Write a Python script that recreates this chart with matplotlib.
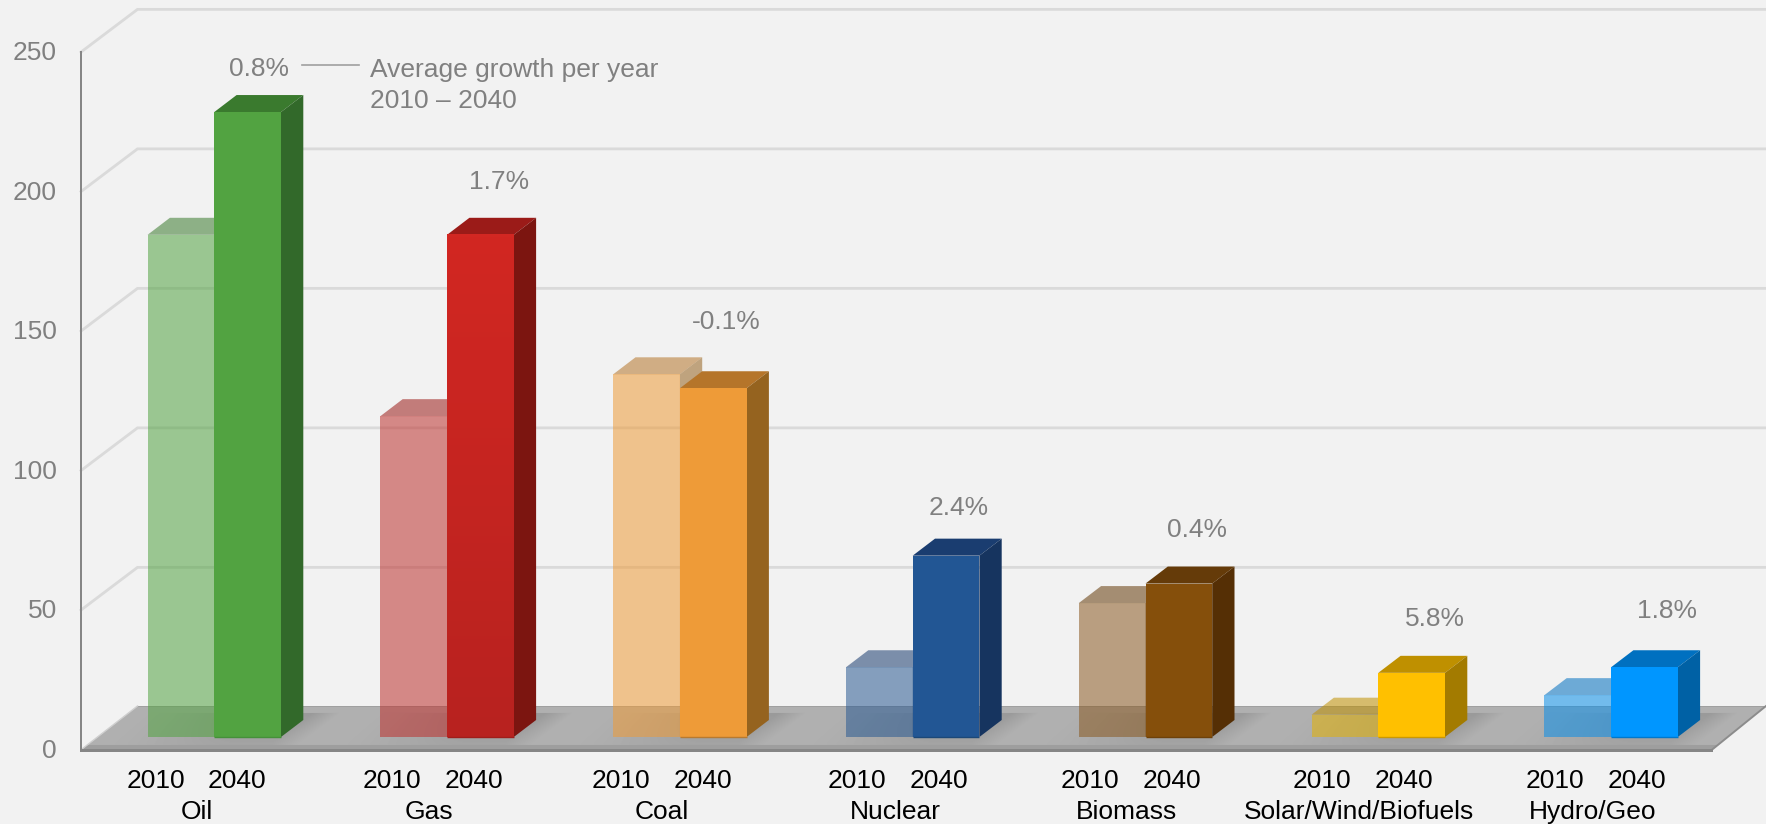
import numpy as np
import matplotlib
matplotlib.use("Agg")
import matplotlib.pyplot as plt
from matplotlib.patches import Polygon
from matplotlib.colors import LinearSegmentedColormap

# ---------- data ----------
categories = ["Oil", "Gas", "Coal", "Nuclear", "Biomass", "Solar/Wind/Biofuels", "Hydro/Geo"]
values_2010 = [180, 115, 130, 25, 48, 8, 15]
values_2040 = [224, 180, 125, 65, 55, 23, 25]
growth_labels = ["0.8%", "1.7%", "-0.1%", "2.4%", "0.4%", "5.8%", "1.8%"]
years = ["2010", "2040"]
y_ticks = [0, 50, 100, 150, 200, 250]
note_lines = ["Average growth per year", "2010 \u2013 2040"]

# ---------- styles ----------
front_colors = ["#52a341", "#c9241f", "#ee9b38", "#225694", "#854f0b", "#ffc000", "#0096ff"]
front_2010 = ["#52a341", "#bd312e", "#ee9b38", "#2a5a92", "#8a5a22", "#e3b205", "#0a8ee8"]
top_colors = ["#3a7a2e", "#9b1b18", "#b5752a", "#1a3d70", "#653b09", "#bf9000", "#0070c0"]
side_colors = ["#32692a", "#7c1510", "#95631f", "#16345f", "#552f05", "#a37b00", "#0061a5"]
base_lines = ["#45903a", "#a01d1a", "#b87a30", "#1c4878", "#6e4109", "#cc9900", "#0078cc"]
ALPHA_2010 = 0.55
BG = "#f2f2f2"
GRID = "#dadada"
AXIS = "#868686"
GREY_TXT = "#808080"
W, H = 1766, 824

plt.rcParams["font.family"] = ["Liberation Sans", "DejaVu Sans"]
fig = plt.figure(figsize=(W / 100, H / 100), dpi=100, facecolor=BG)
ax = fig.add_axes([0, 0, 1, 1])
ax.set_facecolor(BG)
ax.axis("off")

# one category step is 232.8 px, one value unit is 2.79 px
X0, XS, Y0, YS = 214.3, 232.8, 737.0, 2.79
def X(px): return (px - X0) / XS
def Y(py): return (Y0 - py) / YS
xlim = (X(0), X(W))
ylim = (Y(H), Y(0))

BW = 66.7 / XS          # bar width
BDX, BDY = 22.3 / XS, 17 / YS   # bar depth
FRONT_X, BACK_X = X(81), X(137.5)
FRONT_OFF, BACK_OFF = -4.5, 10.8  # wall plane offsets in value units
lw2 = 2 * 72 / 100

# gridlines and walls
for v in y_ticks[1:]:
    ax.plot([FRONT_X, BACK_X, X(W)], [v + FRONT_OFF, v + BACK_OFF, v + BACK_OFF],
            color=GRID, lw=lw2 * 1.4, zorder=1, solid_joinstyle="miter")
ax.plot([FRONT_X, FRONT_X], [FRONT_OFF, 250 + FRONT_OFF], color=AXIS, lw=lw2, zorder=6)
ax.plot([FRONT_X, X(1711)], [FRONT_OFF, FRONT_OFF], color=AXIS, lw=lw2 * 1.5, zorder=6)

# floor with repeating diagonal shading
px = np.arange(80, W + 1)
py = np.arange(705, 752)
PX, PY = np.meshgrid(px + 0.5, py + 0.5)
t = ((PX + (PY - 713) * 1.33 - 807) % 233) / 233
s = np.clip((t - 0.12) / 0.62, 0, 1)
s = s * s * (3 - 2 * s)
edge = np.clip((1 - t) / 0.12, 0, 1)
fade = 1 - 0.45 * np.clip((PY - 713) / 32, 0, 1)
shade = 176 - (176 - 154) * s * edge * fade
shade[PY < 713] = 176
shade[PY < 707.5] = 160
shade[PY > 744.5] = 158
cmap = LinearSegmentedColormap.from_list("g", ["#000000", "#ffffff"])
im = ax.imshow(shade, extent=(X(px[0]), X(px[-1] + 1), Y(py[-1] + 1), Y(py[0])),
               cmap=cmap, vmin=0, vmax=255, aspect="auto", zorder=2,
               interpolation="bilinear")
floor = Polygon([(X(81), Y(750)), (X(137.5), Y(706)), (X(W), Y(706)), (X(1711), Y(750.5))],
                closed=True, transform=ax.transData, fc="none", ec="none")
ax.add_patch(floor)
im.set_clip_path(floor)
ax.plot([X(82), X(137.5)], [Y(749), Y(706)], color="#cfcfcf", lw=1, zorder=3)
ax.plot([X(1711), X(W)], [Y(750.5), Y(706)], color="#8c8c8c", lw=1.4, zorder=3)

def draw_bar(x, v, i, alpha, z, front):
    ax.bar(x, v, BW, align="edge", color=front, alpha=alpha, lw=0, zorder=z + 1)
    ax.fill([x, x + BDX, x + BW + BDX, x + BW],
            [v, v + BDY, v + BDY, v],
            color=top_colors[i], alpha=alpha, lw=0, zorder=z)
    ax.fill([x + BW, x + BW + BDX, x + BW + BDX, x + BW],
            [0, BDY, v + BDY, v],
            color=side_colors[i], alpha=alpha, lw=0, zorder=z)

for i, a in enumerate(values_2010):
    draw_bar(i - BW, a, i, ALPHA_2010, 4, front_2010[i])
for i, b in enumerate(values_2040):
    draw_bar(float(i), b, i, 1.0, 7, front_colors[i])
    ax.plot([i, i + BW], [0, 0], color=base_lines[i], lw=1.0, zorder=9, solid_capstyle="butt")

# vertical shading on the red 2040 bar
red = LinearSegmentedColormap.from_list("r", ["#b8221f", "#d22722"])
ax.imshow(np.linspace(1, 0, 200).reshape(-1, 1), extent=(1, 1 + BW, 0, values_2040[1]),
          cmap=red, aspect="auto", zorder=8.5, interpolation="nearest")
ax.set_xlim(xlim)
ax.set_ylim(ylim)

FS = 19
# value axis labels
for v in y_ticks:
    ax.text(X(57), v + FRONT_OFF - 0.5, str(v), ha="right", va="center", fontsize=FS, color=GREY_TXT, zorder=10)

# category and year labels
year_px = [(155.8, 237), (392, 474), (620.7, 702.7), (857.3, 939),
           (1090, 1172), (1322.3, 1404.3), (1554.7, 1636.7)]
cat_px = [197, 429, 662, 895, 1127, 1359, 1593]
for c, cx, (y1, y2) in zip(categories, cat_px, year_px):
    ax.text(X(y1), Y(781.5), years[0], ha="center", va="center", fontsize=FS, color="black")
    ax.text(X(y2), Y(781.5), years[1], ha="center", va="center", fontsize=FS, color="black")
    ax.text(X(cx), Y(812), c, ha="center", va="center", fontsize=FS, color="black")

# growth labels
growth_px = [(259.5, 69), (499, 182), (726.5, 322), (959, 508), (1197, 530), (1434.5, 619), (1667, 611)]
for lab, (gx, gy) in zip(growth_labels, growth_px):
    ax.text(X(gx), Y(gy), lab, ha="center", va="center", fontsize=FS, color=GREY_TXT)

# note with leader line
ax.plot([X(302), X(358.5)], [Y(65), Y(65)], color="#a0a0a0", lw=1.2)
ax.text(X(369.6), Y(69.5), note_lines[0], ha="left", va="center", fontsize=FS, color=GREY_TXT)
ax.text(X(369.6), Y(101.5), note_lines[1], ha="left", va="center", fontsize=FS, color=GREY_TXT)

fig.savefig("out.png", dpi=100, facecolor=BG)
